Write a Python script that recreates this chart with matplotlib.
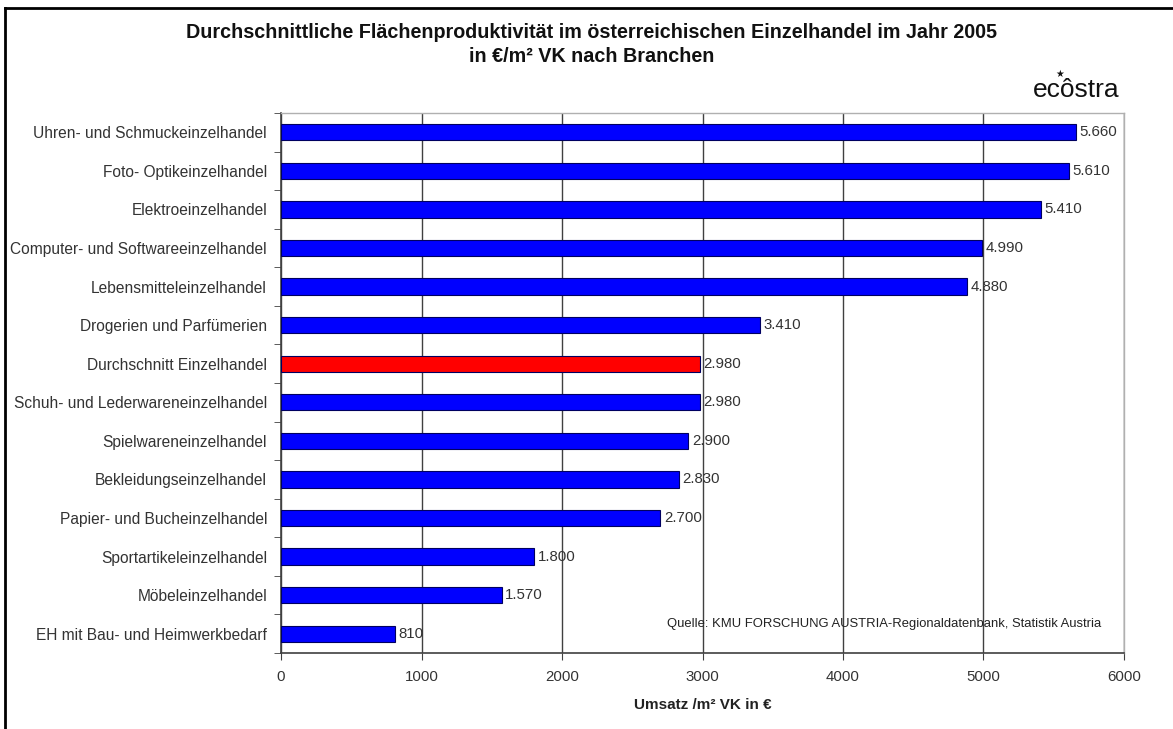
import matplotlib
matplotlib.use("Agg")
import matplotlib.pyplot as plt
from matplotlib.lines import Line2D

categories = [
    "Uhren- und Schmuckeinzelhandel",
    "Foto- Optikeinzelhandel",
    "Elektroeinzelhandel",
    "Computer- und Softwareeinzelhandel",
    "Lebensmitteleinzelhandel",
    "Drogerien und Parfümerien",
    "Durchschnitt Einzelhandel",
    "Schuh- und Lederwareneinzelhandel",
    "Spielwareneinzelhandel",
    "Bekleidungseinzelhandel",
    "Papier- und Bucheinzelhandel",
    "Sportartikeleinzelhandel",
    "Möbeleinzelhandel",
    "EH mit Bau- und Heimwerkbedarf",
]
values = [5660, 5610, 5410, 4990, 4880, 3410, 2980, 2980, 2900, 2830, 2700, 1800, 1570, 810]
highlight = "Durchschnitt Einzelhandel"
xticks = [0, 1000, 2000, 3000, 4000, 5000, 6000]

plt.rcParams['font.family'] = ['Liberation Sans', 'DejaVu Sans']

fig = plt.figure(figsize=(11.73, 7.29), dpi=100)
ax = fig.add_axes([281/1173, 1-653/729, (1124-281)/1173, (653-113)/729])

n = len(categories)
ypos = list(range(n))
colors = ['#FF0000' if c == highlight else '#0000FF' for c in categories]
ax.barh(ypos, values, height=0.42, color=colors, edgecolor='#000060', linewidth=0.8, zorder=3)
for y, v in zip(ypos, values):
    lbl = f"{v:,}".replace(",", ".")
    ax.text(v + 25, y, lbl, va='center', ha='left', fontsize=10.8, color='#333333', zorder=4)

ax.set_ylim(n - 0.5, -0.5)
ax.set_xlim(0, 6000)
ax.set_yticks(ypos)
ax.set_yticklabels(categories, fontsize=11.2, color='#333333')
ax.set_yticks([i - 0.5 for i in range(n + 1)], minor=True)
ax.tick_params(axis='y', which='major', length=0, pad=10)
ax.tick_params(axis='y', which='minor', length=5, direction='out', color='#404040')
ax.set_xticks(xticks)
ax.set_xticklabels([str(t) for t in xticks], fontsize=10.8, color='#333333')
ax.tick_params(axis='x', length=5, direction='out', color='#404040', pad=7)
ax.grid(axis='x', color='#404040', linewidth=1.0, zorder=1)
ax.set_axisbelow(True)
for s in ['left', 'bottom']:
    ax.spines[s].set_color('#404040')
    ax.spines[s].set_linewidth(1.2)
for s in ['top', 'right']:
    ax.spines[s].set_color('#b0b0b0')
    ax.spines[s].set_linewidth(1.0)

ax.set_xlabel("Umsatz /m² VK in €", fontsize=11, fontweight='bold', color='#222222', labelpad=10)

ax.text(0.715, 0.053, "Quelle: KMU FORSCHUNG AUSTRIA-Regionaldatenbank, Statistik Austria",
        transform=ax.transAxes, ha='center', va='center', fontsize=9.4, color='#222222', zorder=5)

fig.text(592/1173, 1-33/729, "Durchschnittliche Flächenproduktivität im österreichischen Einzelhandel im Jahr 2005",
         ha='center', va='center', fontsize=14.2, fontweight='bold', color='#111111')
fig.text(592/1173, 1-56/729, "in €/m² VK nach Branchen",
         ha='center', va='center', fontsize=14.2, fontweight='bold', color='#111111')

fig.text(1076/1173, 1-90/729, "ecôstra", ha='center', va='center', fontsize=19, color='#111111')
fig.text(1060/1173, 1-74/729, "★", ha='center', va='center', fontsize=7, color='#111111',
         family='DejaVu Sans')

# outer frame (top and left)
fig.add_artist(Line2D([5/1173, 1.0], [1-8/729, 1-8/729], transform=fig.transFigure, color='black', linewidth=2))
fig.add_artist(Line2D([5/1173, 5/1173], [0, 1-8/729], transform=fig.transFigure, color='black', linewidth=2))

fig.savefig("out.png", dpi=100, facecolor='white')
